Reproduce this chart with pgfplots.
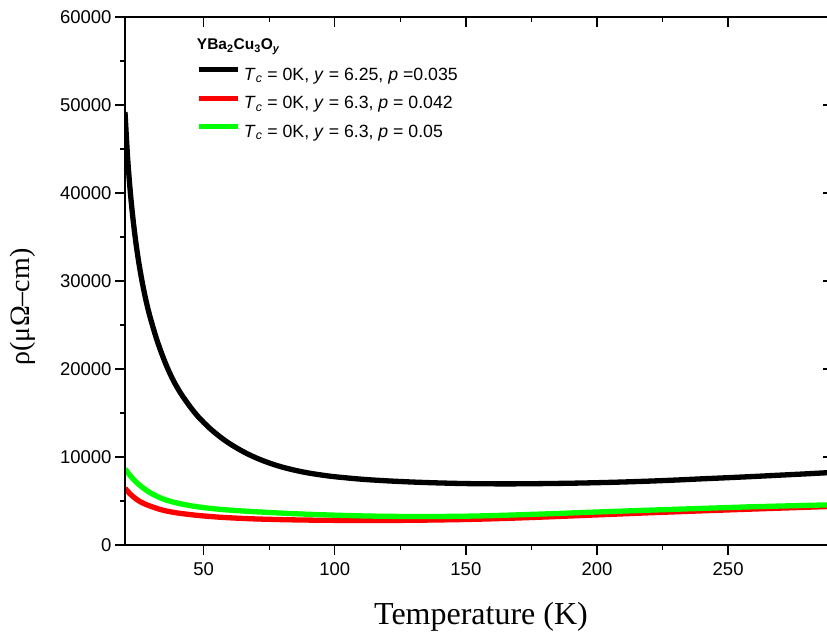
\documentclass[border=0pt]{standalone}
\usepackage{fontspec}
\setmainfont{Liberation Sans}
\newfontfamily\timesf{Liberation Serif}
\usepackage{pgfplots}
\pgfplotsset{compat=1.18}
\usetikzlibrary{calc}
\definecolor{pgreen}{RGB}{0,255,0}
\definecolor{pred}{RGB}{255,0,0}
\begin{document}
\begin{tikzpicture}
\pgfplotsset{
  common/.style={
    scale only axis, width=708pt, height=528pt,
    xmin=20, xmax=290, ymin=0, ymax=60000,
    xtick={50,100,...,250}, ytick={0,10000,...,60000},
    minor x tick num=1, minor y tick num=1,
    major tick length=10pt, minor tick length=5pt,
    axis line style={line width=1.4pt},
    every tick/.style={line width=1.4pt, black},
    scaled y ticks=false, scaled x ticks=false,
    tick label style={font=\fontsize{18.5}{20}\selectfont},
    xticklabel style={yshift=-4pt},
    /pgf/number format/assume math mode=true,
    /pgf/number format/1000 sep={},
  }
}
\begin{axis}[common, name=ax, tick align=outside, xtick pos=left, ytick pos=left,
  xlabel={Temperature (K)},
  xlabel style={font=\timesf\fontsize{32}{36}\selectfont, at={(axis description cs:0.5028,-0.1515)}, anchor=base, inner sep=0pt},
  ylabel={ρ(μΩ–cm)},
  ylabel style={font=\timesf\fontsize{28}{32}\selectfont, at={(axis description cs:-0.1448,0.4508)}, anchor=center, inner sep=0pt},
  legend style={at={(axis description cs:0.1013,0.9053)}, anchor=north west, draw=none, fill=none, inner sep=0pt, column sep=3pt, row sep=10.5pt,
    font=\fontsize{17.7}{20}\selectfont, nodes={inner sep=0pt, text height=13pt, text depth=5pt}},
  legend cell align=left,
  legend image code/.code={\draw[#1, line width=5pt, line cap=butt] (0pt,6.5pt) -- (39pt,6.5pt);},
  every axis plot/.append style={line width=5.3pt, line join=round},
]
\addplot[black, smooth] coordinates {
(20,49200) (21,44000) (22,40200) (23,37200) (24,34700) (25,32600) (26,30800) (27,29200) (28,27800)
(29,26550) (30,25450) (32,23450) (34,21750) (36,20250) (38,18950) (40,17850) (42,16900) (45,15650)
(48,14550) (52,13350) (56,12350) (60,11500) (65,10620) (70,9900) (75,9320) (80,8850) (85,8480)
(90,8180) (95,7950) (100,7760) (110,7480) (120,7290) (130,7150) (140,7050) (150,6980) (160,6950)
(170,6950) (180,6980) (190,7020) (200,7080) (210,7160) (220,7260) (230,7380) (240,7520) (250,7650)
(260,7790) (270,7940) (280,8090) (290,8250)
};
\addlegendentry{\textit{T}\textsubscript{\textit{c}} = 0K, \textit{y} = 6.25, \textit{p} =0.035}
\addplot[pred, smooth] coordinates {
(20,6450) (21,6100) (22,5790) (23,5520) (24,5280) (25,5070) (26,4890) (28,4610) (30,4380) (33,4080)
(36,3850) (40,3640) (45,3450) (50,3300) (56,3160) (62,3060) (69,2970) (80,2880) (90,2830) (100,2800)
(110,2785) (120,2790) (130,2810) (140,2850) (150,2900) (160,2975) (170,3070) (180,3180) (190,3300)
(200,3420) (220,3660) (240,3880) (260,4090) (280,4290) (290,4390)
};
\addlegendentry{\textit{T}\textsubscript{\textit{c}} = 0K, \textit{y} = 6.3, \textit{p} = 0.042}
\addplot[pgreen, smooth] coordinates {
(20,8650) (21,8250) (22,7880) (23,7540) (24,7230) (25,6950) (26,6700) (28,6250) (30,5870) (33,5420)
(36,5080) (40,4760) (45,4470) (50,4250) (56,4060) (62,3920) (69,3790) (80,3620) (90,3490) (100,3390)
(110,3310) (120,3260) (130,3240) (140,3245) (150,3275) (160,3340) (170,3430) (180,3530) (190,3640)
(200,3750) (220,3960) (240,4160) (260,4350) (280,4500) (290,4570)
};
\addlegendentry{\textit{T}\textsubscript{\textit{c}} = 0K, \textit{y} = 6.3, \textit{p} = 0.05}
\node[anchor=base west, inner sep=0pt, font=\bfseries\fontsize{15.5}{18}\selectfont] at (axis description cs:0.1013,0.9375) {YBa\textsubscript{2}Cu\textsubscript{3}O\textsubscript{\textit{y}}};
\end{axis}
\begin{axis}[common, at={(ax.south west)}, anchor=south west, tick align=inside, xtick pos=right, ytick pos=right,
  xticklabels={}, yticklabels={}]
\end{axis}
\pgfresetboundingbox
\path ($(ax.south west)+(-125pt,-89pt)$) rectangle ($(ax.south west)+(702pt,545pt)$);
\end{tikzpicture}
\end{document}
